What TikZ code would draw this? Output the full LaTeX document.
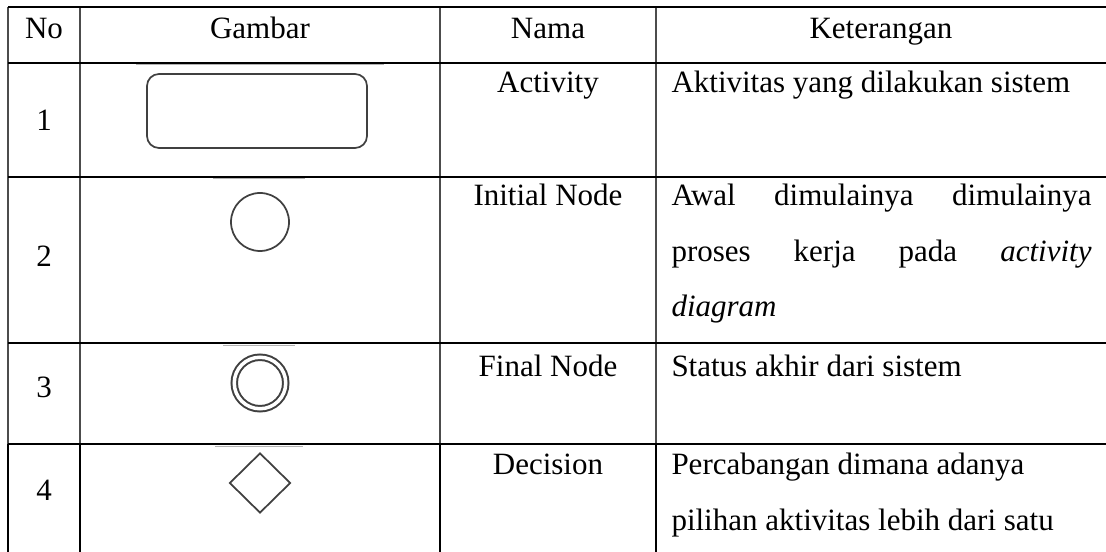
\documentclass[tikz,border=0pt]{standalone}
\usepackage{fontspec}
\setmainfont{Liberation Serif}
\usetikzlibrary{shapes.geometric}

\begin{document}
\begin{tikzpicture}[x=0.4pt, y=-0.4pt,
  txt/.style={font=\fontsize{12.4}{14}\selectfont, inner sep=0pt},
  head/.style={txt, anchor=base},
  nama/.style={txt, anchor=base},
  ket/.style={txt, anchor=base west},
  nomor/.style={txt, anchor=center},
  rule/.style={line width=0.8pt, black},
  sep/.style={line width=0.45pt, black!70},
  sym/.style={draw=black!75, line width=0.7pt, inner sep=0pt},
  imgedge/.style={black!30, line width=0.4pt}]

\useasboundingbox (0,0) rectangle (1106,552);

% ---- GRID ----
\foreach \x in {8,80,440,656}
  {\draw[sep] (\x,7) -- (\x,444);
   \draw[rule] (\x,444) -- (\x,552);}
\foreach \y in {7,63,177,343,444}
  \draw[rule] (8,\y) -- (1106,\y);

% edges of the pasted pictures
\draw[imgedge] (136,65) -- (384,65);
\draw[imgedge] (213,179) -- (305,179);
\draw[imgedge] (223,345.5) -- (295,345.5);
\draw[imgedge] (215,446) -- (303,446);

% ---- HEADER ----
\node[head] (hno) at (44,39) {No};
\node[head] (hgambar) at (260,39) {Gambar};
\node[head] (hnama) at (548,39) {Nama};
\node[head] (hket) at (881,39) {Keterangan};

% ---- ROW 1: activity ----
\node[nomor] (no1) at (44,120) {1};
\node[sym, rounded corners=4.8pt, minimum width=88pt, minimum height=29.6pt] (activity) at (257,111) {};
\node[nama] (nama1) at (548,93) {Activity};
\node[ket] (ket1) at (671,93) {Aktivitas yang dilakukan sistem};

% ---- ROW 2: initial node ----
\node[nomor] (no2) at (44,256) {2};
\node[sym, circle, minimum size=23.2pt] (initial) at (260,222) {};
\node[nama] (nama2) at (548,206) {Initial Node};
\node[ket] (ket2a) at (671,206) {\makebox[168pt][s]{Awal dimulainya dimulainya}};
\node[ket] (ket2b) at (671,262) {\makebox[168pt][s]{proses kerja pada \textit{activity}}};
\node[ket] (ket2c) at (671,317) {\textit{diagram}};

% ---- ROW 3: final node ----
\node[nomor] (no3) at (44,387) {3};
\node[sym, circle, line width=0.8pt, double, double distance=1.4pt, minimum size=20.6pt] (final) at (260,383) {};
\node[nama] (nama3) at (548,376) {Final Node};
\node[ket] (ket3) at (671,376) {Status akhir dari sistem};

% ---- ROW 4: decision ----
\node[nomor] (no4) at (44,490) {4};
\node[sym, diamond, minimum width=24.4pt, minimum height=24pt] (decision) at (260,483) {};
\node[nama] (nama4) at (548,474) {Decision};
\node[ket] (ket4a) at (671,474) {Percabangan dimana adanya};
\node[ket] (ket4b) at (671,530) {pilihan aktivitas lebih dari satu};

\end{tikzpicture}
\end{document}
